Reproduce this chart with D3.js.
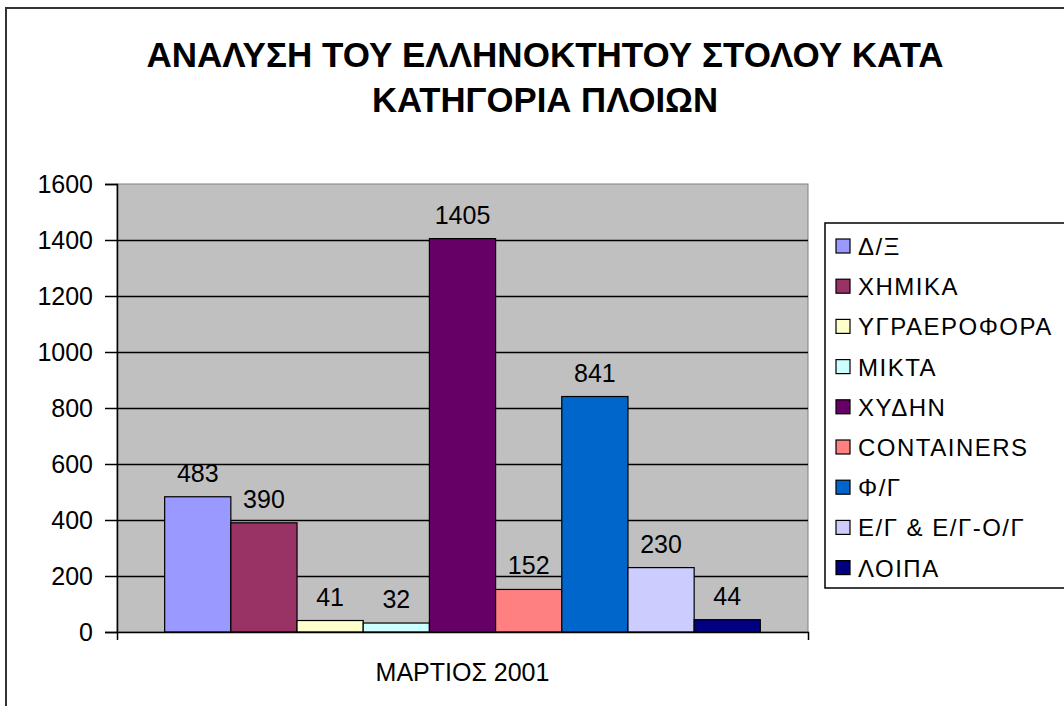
<!DOCTYPE html>
<html>
<head>
<meta charset="utf-8">
<script src="https://cdn.jsdelivr.net/npm/d3@7"></script>
<style>
  html, body { margin: 0; padding: 0; background: #fff; }
  svg { display: block; }
  text { font-family: "Liberation Sans", Arial, sans-serif; fill: #000; }
</style>
</head>
<body>
<svg id="chart" width="1064" height="706"></svg>
<script>
// Greek-owned fleet by ship category, March 2001
const titleLines = ["ΑΝΑΛΥΣΗ ΤΟΥ ΕΛΛΗΝΟΚΤΗΤΟΥ ΣΤΟΛΟΥ ΚΑΤΑ", "ΚΑΤΗΓΟΡΙΑ ΠΛΟΙΩΝ"];
const period = "ΜΑΡΤΙΟΣ 2001";
const categories = ["Δ/Ξ", "ΧΗΜΙΚΑ", "ΥΓΡΑΕΡΟΦΟΡΑ", "ΜΙΚΤΑ", "ΧΥΔΗΝ", "CONTAINERS", "Φ/Γ", "Ε/Γ & Ε/Γ-Ο/Γ", "ΛΟΙΠΑ"];
const values = [483, 390, 41, 32, 1405, 152, 841, 230, 44];
const colors = ["#9999FF", "#993366", "#FFFFCC", "#CCFFFF", "#660066", "#FF8080", "#0066CC", "#CCCCFF", "#000080"];
const yTicks = [0, 200, 400, 600, 800, 1000, 1200, 1400, 1600];
const yGrid = [200, 400, 600, 800, 1000, 1200, 1400];

const svg = d3.select("#chart");

// outer chart frame (top and left edges visible)
svg.append("path")
  .attr("d", "M6,706V8H1064")
  .attr("fill", "none")
  .attr("stroke", "#333")
  .attr("stroke-width", 2);

// title
svg.append("g").selectAll("text")
  .data(titleLines)
  .join("text")
  .attr("x", 545)
  .attr("y", (d, i) => 67 + i * 45)
  .attr("text-anchor", "middle")
  .attr("font-size", 35)
  .attr("font-weight", "bold")
  .attr("textLength", (d, i) => i === 0 ? 797 : 346)
  .attr("lengthAdjust", "spacingAndGlyphs")
  .text(d => d);

// plot area geometry
const plot = { left: 117, right: 808, top: 184, bottom: 632 };

const y = d3.scaleLinear().domain([0, 1600]).range([plot.bottom, plot.top]);
const x0 = d3.scaleBand().domain([period]).range([plot.left, plot.right])
  .paddingInner(0).paddingOuter(0.08);
const x1 = d3.scaleBand().domain(categories).range([0, x0.bandwidth()]).padding(0);

// grey plot background
svg.append("rect")
  .attr("x", plot.left).attr("y", plot.top)
  .attr("width", plot.right - plot.left).attr("height", plot.bottom - plot.top)
  .attr("fill", "#C0C0C0")
  .attr("stroke", "#808080").attr("stroke-width", 1);

// horizontal gridlines
svg.append("g")
  .attr("transform", `translate(${plot.left},0)`)
  .call(d3.axisLeft(y).tickValues(yGrid).tickSize(-(plot.right - plot.left)).tickFormat(""))
  .call(g => g.select(".domain").remove())
  .call(g => g.selectAll("line").attr("stroke", "#000").attr("stroke-width", 1.3));

// bars
const group = svg.append("g").attr("transform", `translate(${x0(period)},0)`);
group.selectAll("rect")
  .data(values)
  .join("rect")
  .attr("x", (d, i) => x1(categories[i]))
  .attr("y", d => y(d))
  .attr("width", x1.bandwidth())
  .attr("height", d => y(0) - y(d))
  .attr("fill", (d, i) => colors[i])
  .attr("stroke", "#000")
  .attr("stroke-width", 1.2);

// value labels
group.selectAll("text")
  .data(values)
  .join("text")
  .attr("x", (d, i) => x1(categories[i]) + x1.bandwidth() / 2)
  .attr("y", d => y(d) - 15)
  .attr("text-anchor", "middle")
  .attr("font-size", 25)
  .text(d => d);

// value axis
svg.append("g")
  .attr("transform", `translate(${plot.left},0)`)
  .call(d3.axisLeft(y).tickValues(yTicks).tickSize(12).tickPadding(12).tickFormat(d3.format("d")))
  .call(g => g.select(".domain").attr("stroke", "#000").attr("stroke-width", 1.5))
  .call(g => g.selectAll("line").attr("stroke", "#000").attr("stroke-width", 1.5))
  .call(g => g.selectAll("text").attr("font-size", 25).attr("fill", "#000")
    .attr("font-family", "'Liberation Sans', Arial, sans-serif"));

// category axis
svg.append("g")
  .attr("transform", `translate(0,${plot.bottom})`)
  .call(d3.axisBottom(x0).tickSizeInner(0).tickSizeOuter(8).tickPadding(31))
  .call(g => g.select(".domain").attr("stroke", "#000").attr("stroke-width", 1.5))
  .call(g => g.selectAll("text").attr("font-size", 25).attr("fill", "#000")
    .attr("font-family", "'Liberation Sans', Arial, sans-serif"));

// legend
const legend = svg.append("g");
legend.append("rect")
  .attr("x", 825).attr("y", 223)
  .attr("width", 260).attr("height", 365)
  .attr("fill", "#fff").attr("stroke", "#000").attr("stroke-width", 1.5);

const rows = legend.selectAll("g.row")
  .data(categories)
  .join("g")
  .attr("class", "row")
  .attr("transform", (d, i) => `translate(836,${246 + i * 40.2})`);

rows.append("rect")
  .attr("x", 0).attr("y", -7)
  .attr("width", 14).attr("height", 14)
  .attr("fill", (d, i) => colors[i])
  .attr("stroke", "#000").attr("stroke-width", 1.2);

rows.append("text")
  .attr("x", 22).attr("y", 9)
  .attr("font-size", 24)
  .attr("letter-spacing", 1.5)
  .text(d => d);
</script>
</body>
</html>
